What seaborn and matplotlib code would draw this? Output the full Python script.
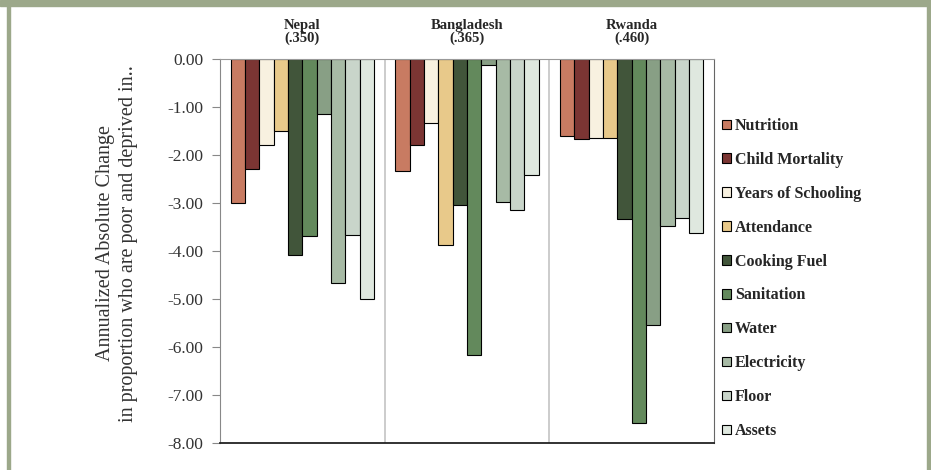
import matplotlib
matplotlib.use('Agg')
from matplotlib import pyplot as plt
from matplotlib.patches import Rectangle
from matplotlib.ticker import FormatStrFormatter
import pandas as pd
import seaborn as sns

# данные
countries = ['Nepal', 'Bangladesh', 'Rwanda']
country_labels = ['Nepal\n(.350)', 'Bangladesh\n(.365)', 'Rwanda\n(.460)']
indicators = ['Nutrition', 'Child Mortality', 'Years of Schooling', 'Attendance',
              'Cooking Fuel', 'Sanitation', 'Water', 'Electricity', 'Floor', 'Assets']
nepal = [-3.01, -2.29, -1.79, -1.50, -4.08, -3.68, -1.15, -4.67, -3.66, -5.01]
bangladesh = [-2.34, -1.79, -1.33, -3.87, -3.04, -6.17, -0.12, -2.98, -3.15, -2.42]
rwanda = [-1.61, -1.67, -1.65, -1.65, -3.33, -7.58, -5.55, -3.47, -3.31, -3.63]
colors = ['#C87B62', '#7B3533', '#F8F1E0', '#E8C98A', '#41553A',
          '#63895C', '#889F85', '#A7BAA5', '#C9D5CA', '#DFE8DF']

rows = []
for country, vals in zip(countries, [nepal, bangladesh, rwanda]):
    for ind, v in zip(indicators, vals):
        rows.append({'country': country, 'indicator': ind, 'value': v})
df = pd.DataFrame(rows)

sns.set_style('white')
plt.rcParams['font.family'] = ['Liberation Serif', 'DejaVu Serif']

fig = plt.figure(figsize=(9.31, 4.70), dpi=100)
ax = fig.add_axes([220 / 931, 27 / 470, 494 / 931, 384 / 470])

sns.barplot(data=df, x='country', y='value', hue='indicator', order=countries,
            hue_order=indicators, palette=colors, width=0.87, edgecolor='black',
            linewidth=0.8, saturation=1, ax=ax)

ax.set_ylim(-8, 0)
ax.set_xlim(-0.5, 2.5)
ax.set_yticks(range(-8, 1))
ax.yaxis.set_major_formatter(FormatStrFormatter('%.2f'))
ax.tick_params(axis='y', direction='out', length=6, pad=6, color='#888888',
               labelsize=12.5, labelcolor='#333333', left=True)

# подписи стран сверху
ax.xaxis.tick_top()
ax.set_xticks(range(len(countries)))
ax.set_xticklabels(country_labels, fontweight='bold', fontsize=10.5, linespacing=1.0)
ax.tick_params(axis='x', length=0, pad=10)
ax.set_xlabel('')

for xsep in [0.5, 1.5]:
    ax.axvline(xsep, color='#C4C4C4', lw=1.2, zorder=0)

ax.spines['left'].set_color('#888888')
ax.spines['top'].set_color('#999999')
ax.spines['bottom'].set_color('#222222')
ax.spines['bottom'].set_linewidth(1.3)
ax.spines['right'].set_color('#666666')

ax.set_ylabel('Annualized Absolute Change\nin proportion who are poor and deprived in..',
              fontsize=14.5, color='#333333', linespacing=1.3)
ax.yaxis.set_label_coords(-0.166, 0.52)

handles, labels = ax.get_legend_handles_labels()
leg = ax.legend(handles, labels, loc='upper left', bbox_to_anchor=(714 / 931, 1 - 110 / 470),
                bbox_transform=fig.transFigure, frameon=False, handlelength=0.55,
                handleheight=0.55, handletextpad=0.25, labelspacing=1.12, borderpad=0,
                prop={'weight': 'bold', 'size': 11.5})

# рамка как на исходной картинке
fig.patches.append(Rectangle((0, 464 / 470), 1, 6 / 470, transform=fig.transFigure,
                             color='#9CA88A', zorder=-1))
fig.patches.append(Rectangle((7 / 931, 0), 3 / 931, 1, transform=fig.transFigure,
                             color='#9CA88A', zorder=-1))
fig.patches.append(Rectangle((927 / 931, 0), 4 / 931, 1, transform=fig.transFigure,
                             color='#9CA88A', zorder=-1))

plt.savefig('out.png', dpi=100)
